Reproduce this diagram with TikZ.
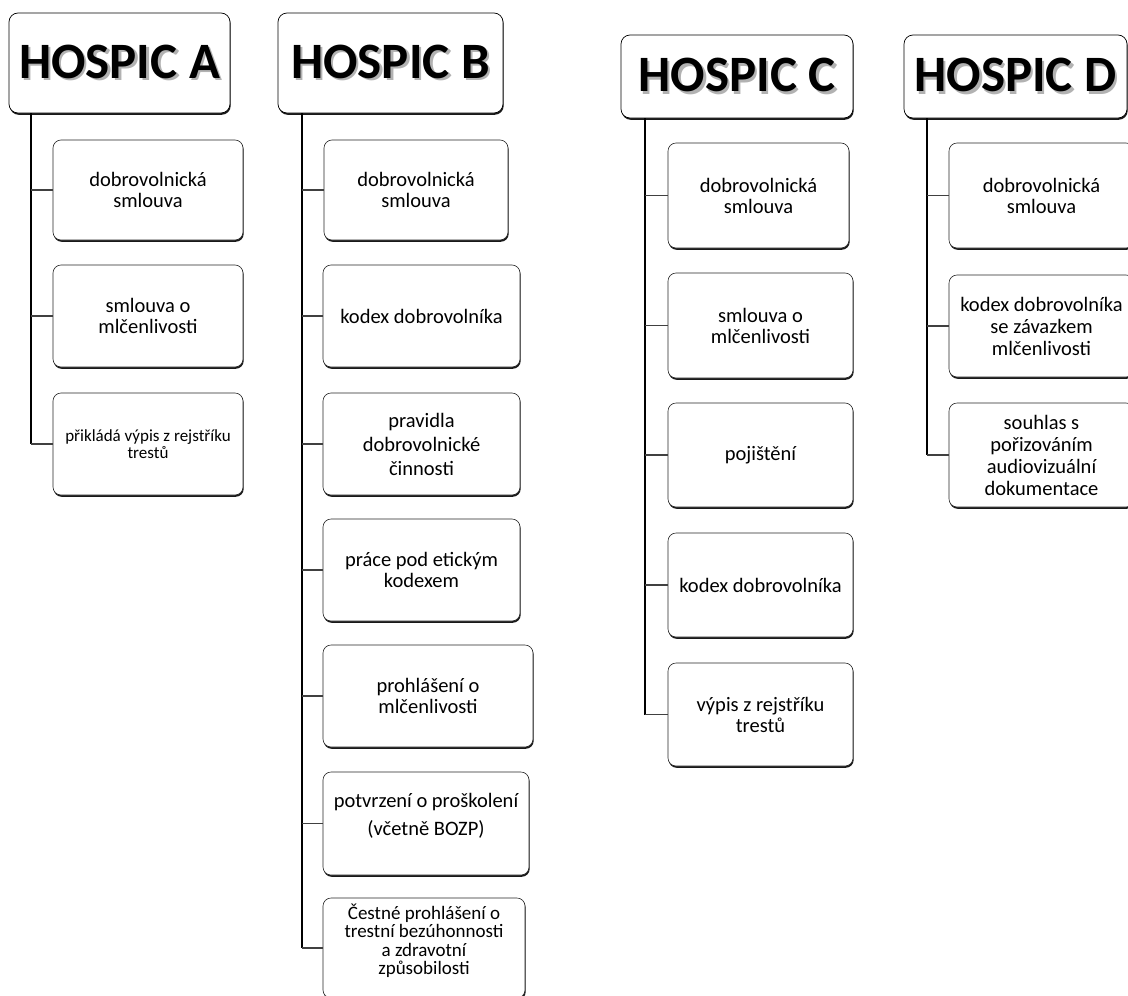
\documentclass[tikz,border=0pt]{standalone}
\usepackage{fontspec}
\setmainfont{Carlito}
\usetikzlibrary{shadows}

% header title with a soft offset shadow behind it
\newcommand\hdrtext[1]{\makebox[0pt][l]{\hspace{2.5pt}\raisebox{-2.5pt}{\color{black!30}#1}}#1}

\tikzset{
  boxshadow/.style={drop shadow={shadow xshift=0.7pt, shadow yshift=-1.8pt, fill=black, opacity=0.9}},
  hdrbox/.style={draw=black, line width=0.7pt, rounded corners=9pt, fill=white, boxshadow,
    inner sep=0pt, font=\fontsize{51}{56}\selectfont\bfseries},
  itembox/.style={draw=black!85, line width=0.6pt, rounded corners=8pt, fill=white, boxshadow,
    inner sep=0pt, align=center, font=\fontsize{20.5}{21}\selectfont},
  trunk/.style={line width=1.3pt, black},
  branch/.style={line width=1.4pt, black!75},
}

\begin{document}
\begin{tikzpicture}[x=1pt, y=-1pt]
\useasboundingbox (0,0) rectangle (1128,996);

% ---------------- HOSPIC A ----------------
\node[hdrbox, minimum width=221, minimum height=100] (hA) at (119.5,63) {\hdrtext{HOSPIC A}};
\node[itembox, minimum width=190, minimum height=100] (a1) at (148,190) {dobrovolnická\\smlouva};
\node[itembox, minimum width=190, minimum height=102] (a2) at (148,316) {smlouva o\\mlčenlivosti};
\node[itembox, minimum width=190, minimum height=102, font=\fontsize{17}{17}\selectfont] (a3) at (148,444) {přikládá výpis z rejstříku\\trestů};
\coordinate (tA) at (31,113);
\draw[trunk] (tA) -- (tA |- a3.west);
\foreach \n in {a1,a2,a3} \draw[branch] (tA |- \n.west) -- (\n.west);

% ---------------- HOSPIC B ----------------
\node[hdrbox, minimum width=225, minimum height=100] (hB) at (390.5,63) {\hdrtext{HOSPIC B}};
\node[itembox, minimum width=184, minimum height=100] (b1) at (416,190) {dobrovolnická\\smlouva};
\node[itembox, minimum width=197, minimum height=102] (b2) at (421.5,316) {kodex dobrovolníka};
\node[itembox, minimum width=197, minimum height=102, font=\fontsize{20.5}{24}\selectfont] (b3) at (421.5,444) {pravidla\\dobrovolnické\\činnosti};
\node[itembox, minimum width=197, minimum height=102] (b4) at (421.5,570) {práce pod etickým\\kodexem};
\node[itembox, minimum width=210, minimum height=102] (b5) at (428,696) {prohlášení o\\mlčenlivosti};
\node[itembox, minimum width=206, minimum height=103] (b6) at (426,823.5) {potvrzení o proškolení\\[7pt](včetně BOZP)\\[-3pt]\mbox{}};
\node[itembox, minimum width=202, minimum height=100, font=\fontsize{19}{18.5}\selectfont] (b7) at (424,948) {Čestné prohlášení o\\trestní bezúhonnosti\\a zdravotní\\způsobilosti\\[-1pt]\mbox{}};
\coordinate (tB) at (302,113);
\draw[trunk] (tB) -- (tB |- b7.west);
\foreach \n in {b1,b2,b3,b4,b5,b6,b7} \draw[branch] (tB |- \n.west) -- (\n.west);

% ---------------- HOSPIC C ----------------
\node[hdrbox, minimum width=232, minimum height=83] (hC) at (737,76.5) {\hdrtext{HOSPIC C}};
\node[itembox, minimum width=181, minimum height=105] (c1) at (758.5,195.5) {dobrovolnická\\smlouva};
\node[itembox, minimum width=185, minimum height=105] (c2) at (760.5,325.5) {smlouva o\\mlčenlivosti};
\node[itembox, minimum width=185, minimum height=104] (c3) at (760.5,455) {pojištění};
\node[itembox, minimum width=185, minimum height=104] (c4) at (760.5,585) {kodex dobrovolníka};
\node[itembox, minimum width=185, minimum height=103] (c5) at (760.5,714.5) {výpis z rejstříku\\trestů};
\coordinate (tC) at (645,118);
\draw[trunk] (tC) -- (tC |- c5.west);
\foreach \n in {c1,c2,c3,c4,c5} \draw[branch] (tC |- \n.west) -- (\n.west);

% ---------------- HOSPIC D ----------------
\node[hdrbox, minimum width=223, minimum height=83] (hD) at (1015.5,76.5) {\hdrtext{HOSPIC D}};
\node[itembox, minimum width=185, minimum height=105] (d1) at (1041.5,195.5) {dobrovolnická\\smlouva};
\node[itembox, minimum width=185, minimum height=102, font=\fontsize{20.5}{22}\selectfont] (d2) at (1041.5,326) {kodex dobrovolníka\\se závazkem\\mlčenlivosti};
\node[itembox, minimum width=185, minimum height=104, font=\fontsize{20.5}{22}\selectfont] (d3) at (1041.5,455) {souhlas s\\pořizováním\\audiovizuální\\dokumentace};
\coordinate (tD) at (927,118);
\draw[trunk] (tD) -- (tD |- d3.west);
\foreach \n in {d1,d2,d3} \draw[branch] (tD |- \n.west) -- (\n.west);
\end{tikzpicture}
\end{document}
